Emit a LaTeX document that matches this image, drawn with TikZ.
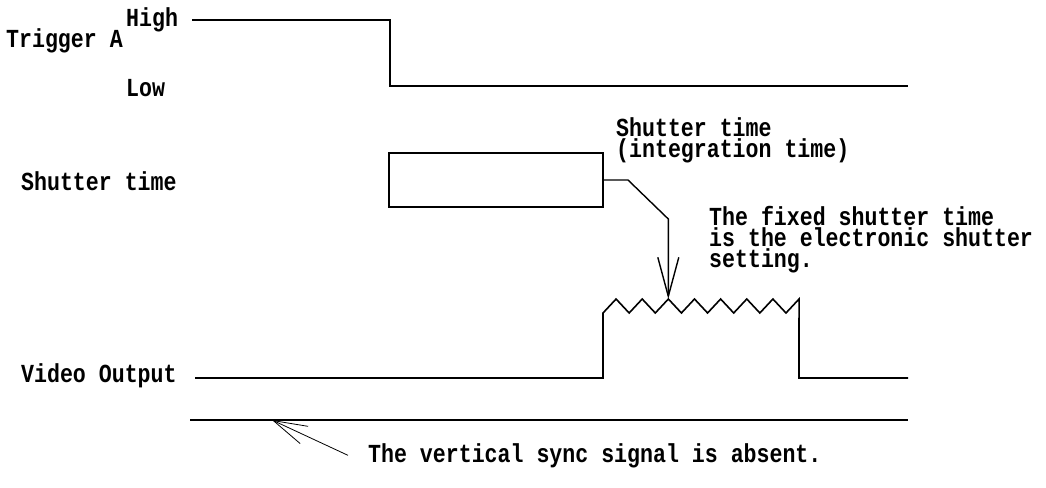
\documentclass[tikz,border=0pt]{standalone}
\usepackage{fontspec}
\setmainfont{Liberation Mono}[FakeStretch=0.83]
\usetikzlibrary{arrows.meta,positioning}

\begin{document}
\begin{tikzpicture}[
  x=1pt, y=-1pt,
  wave/.style={line width=1.6pt, line join=miter},
  lbl/.style={anchor=base west, inner sep=0pt, font=\fontsize{26}{21}\selectfont\bfseries},
  note/.style={lbl, align=left},
  pointer/.style={-{Straight Barb[length=39pt,width=21pt]}, line width=1.4pt},
  thinptr/.style={-{Straight Barb[length=34pt,width=19pt]}, line width=0.8pt},
]
  \useasboundingbox (0,0) rectangle (1046,487);

  % Labels on the left
  \node[lbl] (high) at (126,27) {High};
  \node[lbl] (trig) at (6,48) {Trigger A};
  \node[lbl] (low) at (126,96) {Low};
  \node[lbl] (shlbl) at (21,190) {Shutter time};
  \node[lbl] (video) at (21,382) {Video Output};

  % Trigger A
  \draw[wave] (192,20) -- (390,20) -- (390,86) -- (908,86);

  % Shutter time
  \node[draw, line width=1.6pt, minimum width=214pt, minimum height=54pt, inner sep=0pt] (shbox) at (496,180) {};
  \node[note] (integ) at (616,157) {Shutter time\\(integration time)};

  % Video output with the integrated pulse
  \coordinate (pk) at (668.3,299);
  \draw[wave] (195,378) -- (603,378) -- (603,313)
    \foreach \k in {1,...,7} { -- ++(13.07,-14) -- ++(13.07,14) }
    -- ++(13.07,-14) -- (799,378) -- (908,378);
  \draw[pointer] (shbox.east) -- (628,180) -- (668.3,219) -- (pk);
  \node[note] (fixed) at (709,267) {The fixed shutter time\\is the electronic shutter\\setting.};

  % Sync line
  \draw[wave] (190,420) -- (908,420);
  \coordinate (syncpt) at (272,420);
  \node[lbl] (sync) at (368,462) {The vertical sync signal is absent.};
  \draw[thinptr] ([xshift=-20pt]sync.west) -- (syncpt);
\end{tikzpicture}
\end{document}
